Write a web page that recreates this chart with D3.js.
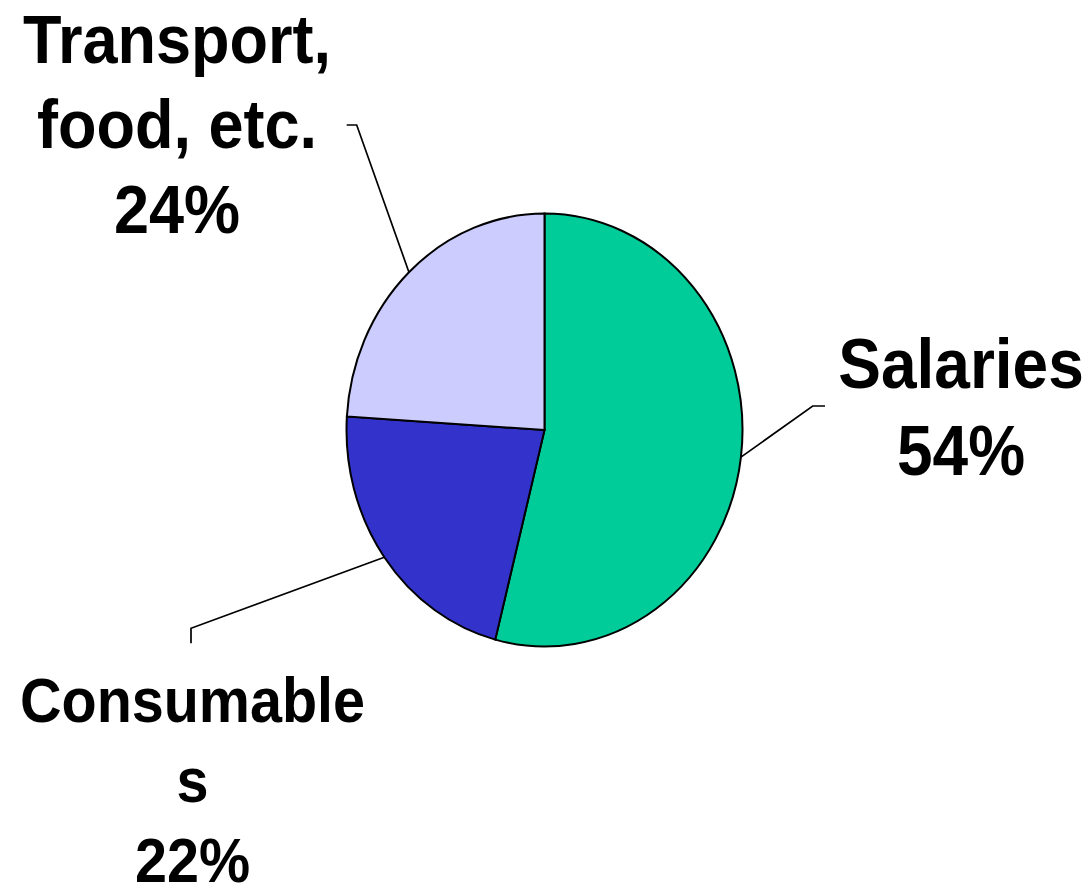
<!DOCTYPE html>
<html>
<head>
<meta charset="utf-8">
<script src="https://cdn.jsdelivr.net/npm/d3@7"></script>
<style>
  body { margin: 0; background: #fff; }
  text { font-family: "Liberation Sans", Arial, sans-serif; font-weight: bold; fill: #000; }
</style>
</head>
<body>
<div id="chart"></div>
<script>
// data
var categories = ["Salaries", "Consumables", "Transport, food, etc."]
var values = [54, 22, 24]
var colors = ["#00CC99", "#3333CC", "#CCCCFF"]
// label text lines per slice
var labelLines = [["Salaries", "54%"], ["Consumable", "s", "22%"], ["Transport,", "food, etc.", "24%"]]

var width = 1092, height = 887
var cx = 544.5, cy = 430
var r = 198, sy = 1.093   // pie is a little taller than wide

var svg = d3.select("#chart").append("svg")
  .attr("width", width)
  .attr("height", height)

var pie = d3.pie().sort(null).value(function(d){ return d })
var arcs = pie(values)

var arc = d3.arc().innerRadius(0).outerRadius(r)
var edge = d3.arc().innerRadius(r).outerRadius(r)

var g = svg.append("g")
  .attr("transform", "translate(" + cx + "," + cy + ") scale(1," + sy + ")")

g.selectAll("path")
  .data(arcs)
  .join("path")
  .attr("d", arc)
  .attr("fill", function(d, i){ return colors[i] })
  .attr("stroke", "#000")
  .attr("stroke-width", 2)
  .attr("vector-effect", "non-scaling-stroke")

// leader lines: start on the pie edge at slice middle, elbow, short tail
var elbows = [[[812.7, 406], [825, 406]], [[191, 628.3], [191, 643.3]], [[356.7, 125], [346.7, 125]]]

arcs.forEach(function(d, i){
  var c = edge.centroid(d)
  var p0 = [cx + c[0], cy + c[1] * sy]
  var pts = [p0].concat(elbows[i])
  svg.append("path")
    .attr("d", d3.line()(pts))
    .attr("fill", "none")
    .attr("stroke", "#000")
    .attr("stroke-width", 1.7)
})

// labels (x centre, baselines, font size)
var labelPos = [
  {x: 961, y: [388, 475], size: 64},
  {x: 192.5, y: [721.7, 802, 882], size: 57.5},
  {x: 177, y: [63.3, 148, 233], size: 63}
]

labelLines.forEach(function(lines, i){
  var lp = labelPos[i]
  lines.forEach(function(t, j){
    svg.append("text")
      .attr("transform", "translate(" + lp.x + "," + lp.y[j] + ") scale(1," + sy + ")")
      .attr("text-anchor", "middle")
      .style("font-size", lp.size + "px")
      .text(t)
  })
})
</script>
</body>
</html>
